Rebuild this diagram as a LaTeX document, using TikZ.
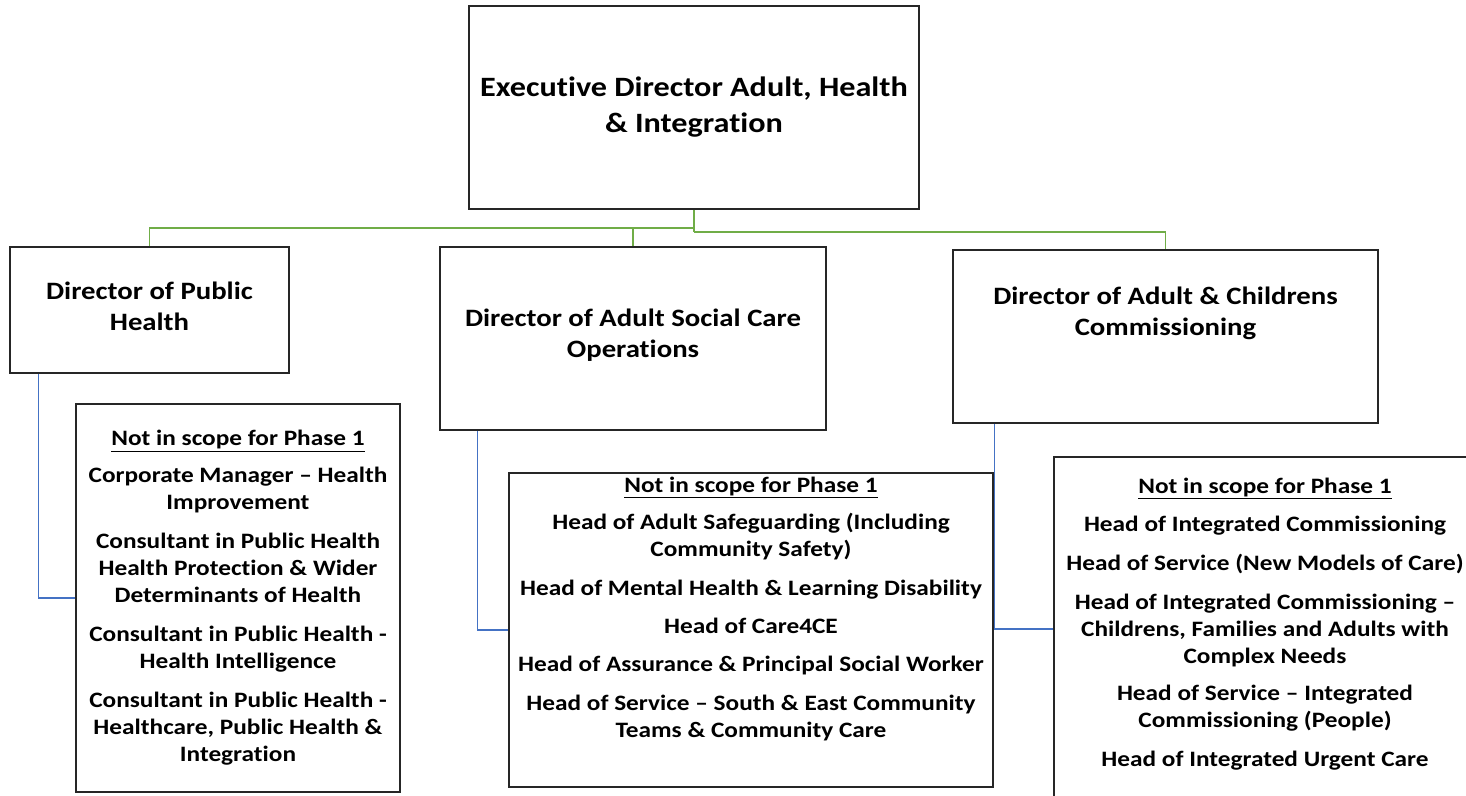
\documentclass[tikz,border=0pt]{standalone}
\usepackage{fontspec}
\setmainfont{Carlito}[FakeStretch=1.15, Ligatures=NoCommon]
\usepackage{xcolor}
\usepackage{tikz}
\definecolor{OrgGreen}{HTML}{70AD47}
\definecolor{OrgBlue}{HTML}{4472C4}
\newcommand{\scopeHead}{\underline{Not in scope for Phase 1}}

\begin{document}
\begin{tikzpicture}[x=1pt,y=-1pt,
    orgbox/.style={draw=black!85, line width=1.5pt, inner sep=0pt},
    exectext/.style={font=\bfseries\fontsize{28}{36}\selectfont, align=center, inner sep=0pt},
    dirtext/.style={font=\bfseries\fontsize{25}{31}\selectfont, align=center, inner sep=0pt},
    listtext/.style={font=\bfseries\fontsize{22}{27}\selectfont, align=center, inner sep=0pt},
    greenline/.style={draw=OrgGreen, line width=1.5pt},
    blueline/.style={draw=OrgBlue, line width=1.5pt}]
    \useasboundingbox (0,0) rectangle (1466,795);

    % top
    \node [orgbox, minimum width=450pt, minimum height=203pt] (exec) at (694,107.5) {};
    \node [exectext] (execT) at (694,107.5) {Executive Director Adult, Health\\\& Integration};

    % directors
    \node [orgbox, minimum width=279pt, minimum height=126pt] (phd) at (149.5,310) {};
    \node [dirtext] (phdT) at (149.5,306) {Director of Public\\Health};

    \node [orgbox, minimum width=386pt, minimum height=183pt] (ascd) at (633,338.5) {};
    \node [dirtext] (ascdT) at (633,335) {Director of Adult Social Care\\Operations};

    \node [orgbox, minimum width=425pt, minimum height=173pt] (accd) at (1165.5,336.5) {};
    \node [dirtext] (accdT) at (1165.5,313) {Director of Adult \& Childrens\\Commissioning};

    % not in scope lists
    \node [orgbox, minimum width=324pt, minimum height=388pt] (phl) at (238,598) {};
    \node [listtext] (phlT) at (238,598) {\scopeHead\\[10pt]
        Corporate Manager – Health\\Improvement\\[12pt]
        Consultant in Public Health\\Health Protection \& Wider\\Determinants of Health\\[12pt]
        Consultant in Public Health -\\Health Intelligence\\[12pt]
        Consultant in Public Health -\\Healthcare, Public Health \&\\Integration};

    \node [orgbox, minimum width=484pt, minimum height=314pt] (ascl) at (751,630) {};
    \node [listtext] (asclT) at (751,609) {\scopeHead\\[10pt]
        Head of Adult Safeguarding (Including\\Community Safety)\\[12pt]
        Head of Mental Health \& Learning Disability\\[11pt]
        Head of Care4CE\\[11pt]
        Head of Assurance \& Principal Social Worker\\[12pt]
        Head of Service – South \& East Community\\Teams \& Community Care};

    \node [orgbox, minimum width=436pt, minimum height=344pt] (accl) at (1272,629) {};
    \node [listtext] (acclT) at (1265,624) {\scopeHead\\[11pt]
        Head of Integrated Commissioning\\[12pt]
        Head of Service (New Models of Care)\\[12pt]
        Head of Integrated Commissioning –\\Childrens, Families and Adults with\\Complex Needs\\[10pt]
        Head of Service – Integrated\\Commissioning (People)\\[12pt]
        Head of Integrated Urgent Care};

    % green tree
    \coordinate (forkL) at (694,228);
    \coordinate (forkR) at (694,232);
    \draw [greenline] (exec.south) -- (forkR);
    \draw [greenline] (forkL) -| (phd.north);
    \draw [greenline] (forkL) -| (ascd.north);
    \draw [greenline] (forkR) -| (accd.north);

    % blue links
    \draw [blueline] ([xshift=29pt]phd.south west) |- (phl.west);
    \draw [blueline] ([xshift=38pt]ascd.south west) |- (ascl.west);
    \draw [blueline] ([xshift=42pt]accd.south west) |- (accl.west);
\end{tikzpicture}
\end{document}
